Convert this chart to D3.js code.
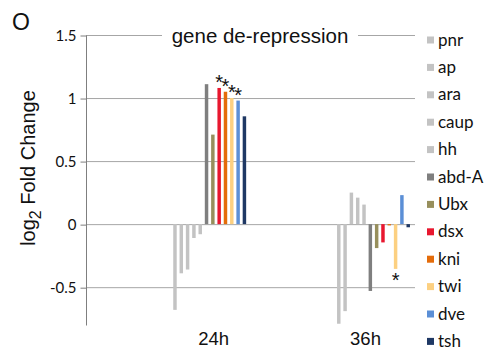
<!DOCTYPE html>
<html>
<head>
  <meta charset="utf-8">
  <title>gene de-repression</title>
  <style>
    body { margin: 0; background: #fff; }
    svg text { fill: #111; }
  </style>
</head>
<body>
  <div class="area"></div>

  <script src="https://cdn.jsdelivr.net/npm/d3@7"></script>
  <script type="text/javascript">

  var w = 488, h = 352;

  // data
  var groups = ['24h', '36h'];
  var genes = ['pnr', 'ap', 'ara', 'caup', 'hh', 'abd-A', 'Ubx', 'dsx', 'kni', 'twi', 'dve', 'tsh'];
  var colors = ['#c3c3c3', '#c3c3c3', '#c3c3c3', '#c3c3c3', '#c3c3c3', '#7f7f7f',
                '#978f5c', '#e8172f', '#e46c0a', '#fcd081', '#5b8fd6', '#1f3864'];
  var vals24 = [-0.68, -0.39, -0.36, -0.11, -0.08, 1.11, 0.71, 1.08, 1.05, 1.0, 0.98, 0.855];
  var vals36 = [-0.79, -0.69, 0.25, 0.21, 0.155, -0.53, -0.19, -0.145, -0.01, -0.355, 0.23, -0.025];
  var starred24 = ['dsx', 'kni', 'twi', 'dve'];
  var starred36 = ['twi'];
  var yTicks = [-0.5, 0, 0.5, 1, 1.5];
  var yTickLabels = ['-0.5', '0', '0.5', '1', '1.5'];

  var series = [vals24, vals36];
  var stars = [starred24, starred36];

  var svg = d3.select('.area')
    .append('svg')
    .attr('width', w)
    .attr('height', h);

  var left = 86, right = 415;

  var y = d3.scaleLinear().domain([-0.8, 1.5]).range([325, 35]);
  var x0 = d3.scalePoint().domain(groups).range([209.7, 373.5]);
  var x1 = d3.scaleBand().domain(genes).range([-39.3, 39.3]).padding(0.45);

  // gridlines
  svg.append('g').selectAll('line')
    .data(yTicks).enter().append('line')
    .attr('x1', left).attr('x2', right)
    .attr('y1', function(d){ return y(d) + 0.5 })
    .attr('y2', function(d){ return y(d) + 0.5 })
    .attr('stroke', '#a6a6a6').attr('stroke-width', 1);

  // y axis
  var yAxis = d3.axisLeft(y)
    .tickValues(yTicks)
    .tickFormat(function(d, i){ return yTickLabels[i] })
    .tickSize(6).tickPadding(4);

  var ax = svg.append('g')
    .attr('transform', 'translate(' + (left + 0.5) + ',0.5)')
    .call(yAxis);
  ax.select('.domain').attr('d', 'M0,' + y(1.5) + 'V' + y(-0.8)).attr('stroke', '#7f7f7f');
  ax.selectAll('.tick line').attr('stroke', '#7f7f7f');
  ax.selectAll('.tick text')
    .style('font-family', 'Lato, "Open Sans", sans-serif')
    .style('font-size', '15px').attr('fill', '#222');

  // bars
  groups.forEach(function(g, gi){
    var gEl = svg.append('g').attr('transform', 'translate(' + x0(g) + ',0)');
    gEl.selectAll('rect')
      .data(series[gi]).enter().append('rect')
      .attr('x', function(d, i){ return x1(genes[i]) })
      .attr('width', x1.bandwidth())
      .attr('y', function(d){ return Math.min(y(d), y(0)) })
      .attr('height', function(d){ return Math.max(Math.abs(y(d) - y(0)), 1) })
      .attr('fill', function(d, i){ return colors[i] });

    gEl.selectAll('text.star')
      .data(stars[gi]).enter().append('text')
      .attr('class', 'star')
      .attr('x', function(d){ return x1(d) + x1.bandwidth() / 2 })
      .attr('y', function(d){
        var v = series[gi][genes.indexOf(d)];
        return v >= 0 ? y(v) + 1 : y(v) + 18;
      })
      .attr('text-anchor', 'middle')
      .style('font-family', '"Liberation Sans", Arial, sans-serif')
      .style('font-size', '20px')
      .text('*');
  });

  // group labels
  svg.append('g').selectAll('text')
    .data(groups).enter().append('text')
    .attr('x', function(d){ return x0(d) + (d == '24h' ? 4 : -8) })
    .attr('y', 345)
    .attr('text-anchor', 'middle')
    .style('font-family', '"Liberation Sans", Arial, sans-serif')
    .style('font-size', '18.5px')
    .text(function(d){ return d });

  // title with white box over the top gridline
  svg.append('rect').attr('x', 162).attr('y', 22).attr('width', 196).attr('height', 26).attr('fill', '#fff');
  svg.append('text')
    .attr('x', 260).attr('y', 43)
    .attr('text-anchor', 'middle')
    .style('font-family', '"Liberation Sans", Arial, sans-serif')
    .style('font-size', '20.5px')
    .text('gene de-repression');

  // panel letter
  svg.append('text')
    .attr('x', 12).attr('y', 30)
    .style('font-family', '"Liberation Sans", Arial, sans-serif')
    .style('font-size', '23px')
    .text('O');

  // y axis title
  var yt = svg.append('text')
    .attr('transform', 'translate(35,168) rotate(-90)')
    .attr('text-anchor', 'middle')
    .style('font-family', '"Liberation Sans", Arial, sans-serif')
    .style('font-size', '20px');
  yt.append('tspan').text('log');
  yt.append('tspan').attr('dy', 6).style('font-size', '16px').text('2');
  yt.append('tspan').attr('dy', -6).text(' Fold Change');

  // legend
  var lg = svg.append('g').selectAll('g')
    .data(genes).enter().append('g')
    .attr('transform', function(d, i){ return 'translate(427,' + (39.5 + i * 27.4) + ')' });
  lg.append('rect')
    .attr('x', 0).attr('y', -3).attr('width', 7).attr('height', 7)
    .attr('fill', function(d, i){ return colors[i] });
  lg.append('text')
    .attr('x', 11).attr('y', 6)
    .style('font-family', 'Lato, "Open Sans", sans-serif')
    .style('font-size', '17px')
    .text(function(d){ return d });

  </script>
</body>
</html>
